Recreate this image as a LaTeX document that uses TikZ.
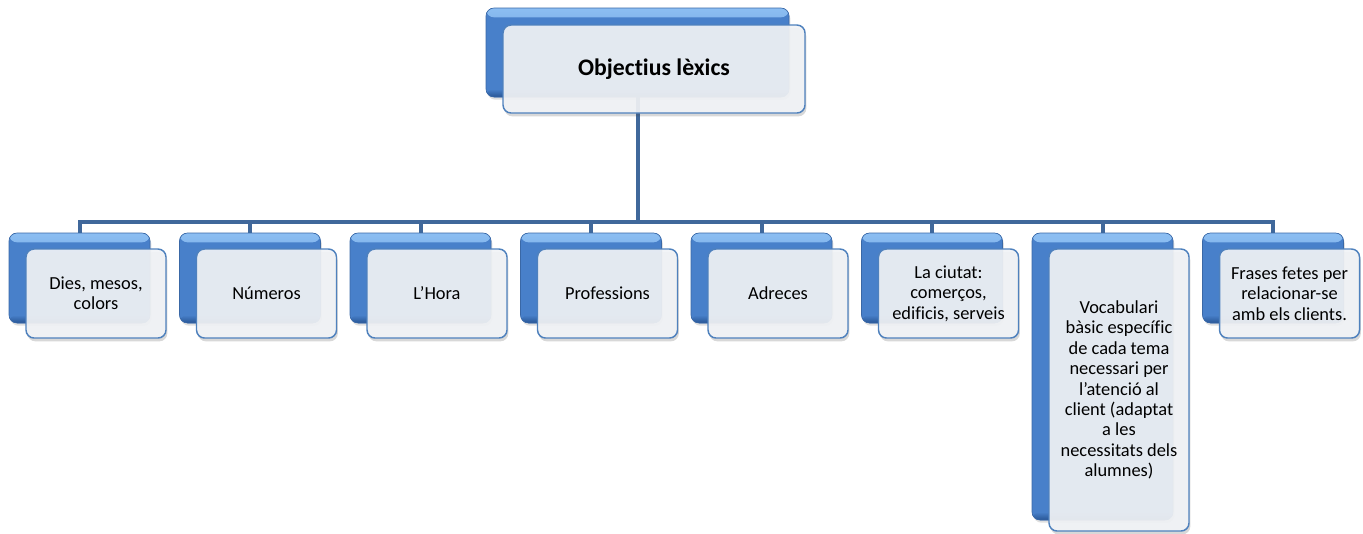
\documentclass[tikz,border=0pt]{standalone}
\usepackage{fontspec}
\setmainfont{Carlito}[Ligatures=NoCommon]
\usetikzlibrary{shadows}
\definecolor{boxblue}{RGB}{72,128,202}
\definecolor{blueTop}{RGB}{140,190,242}
\definecolor{blueBot}{RGB}{40,85,148}
\definecolor{blueEdge}{RGB}{58,104,166}
\definecolor{frontfill}{RGB}{241,243,246}
\definecolor{frontedge}{RGB}{79,129,189}
\definecolor{connblue}{RGB}{64,104,155}
\pgfdeclarelayer{bg}
\pgfsetlayers{bg,main}
\tikzset{
  backbox/.style={rounded corners=6pt, fill=boxblue,
    draw=blueEdge, line width=0.5pt, inner sep=0pt, outer sep=0pt,
    drop shadow={opacity=0.18, shadow xshift=1pt, shadow yshift=-2pt, fill=black!70},
    path picture={
      \fill[top color=blueTop, bottom color=boxblue] (path picture bounding box.north west) rectangle ([yshift=-7pt]path picture bounding box.north east);
      \fill[top color=boxblue, bottom color=blueBot] ([yshift=6pt]path picture bounding box.south west) rectangle (path picture bounding box.south east);
    }},
  frontbox/.style={rounded corners=6pt, fill=frontfill, fill opacity=0.92, text opacity=1,
    draw=frontedge, line width=1.1pt, align=center, inner sep=0pt, outer sep=0pt,
    drop shadow={opacity=0.22, shadow xshift=1pt, shadow yshift=-2.5pt, fill=black!70},
    font=\fontsize{13.8}{15.3}\selectfont},
  conn/.style={draw=connblue, line width=3pt},
}
\begin{document}
\begin{tikzpicture}[x=0.75pt,y=-0.75pt]
\useasboundingbox (0,0) rectangle (1363,533);
\coordinate (bar) at (0,222);
% top
\node[backbox, minimum width=303*0.75pt, minimum height=89*0.75pt] (tb) at (637.5,52.5) {};
\node[frontbox, minimum width=302*0.75pt, minimum height=88*0.75pt, font=\fontsize{17.8}{20}\selectfont\bfseries] (tf) at (654,69) {Objectius lèxics};
% children back boxes
\node[backbox, minimum width=141*0.75pt, minimum height=90*0.75pt] (b1) at (79.5,278) {};
\node[backbox, minimum width=141*0.75pt, minimum height=90*0.75pt] (b2) at (250,278) {};
\node[backbox, minimum width=141*0.75pt, minimum height=90*0.75pt] (b3) at (420.5,278) {};
\node[backbox, minimum width=141*0.75pt, minimum height=90*0.75pt] (b4) at (591,278) {};
\node[backbox, minimum width=141*0.75pt, minimum height=90*0.75pt] (b5) at (761.5,278) {};
\node[backbox, minimum width=141*0.75pt, minimum height=90*0.75pt] (b6) at (932,278) {};
\node[backbox, minimum width=141*0.75pt, minimum height=287*0.75pt] (b7) at (1102.5,376.5) {};
\node[backbox, minimum width=141*0.75pt, minimum height=90*0.75pt] (b8) at (1273,278) {};
% children front boxes
\node[frontbox, minimum width=140*0.75pt, minimum height=89*0.75pt] (f1) at (96,293.5) {Dies, mesos,\\colors};
\node[frontbox, minimum width=140*0.75pt, minimum height=89*0.75pt] (f2) at (266.5,293.5) {Números};
\node[frontbox, minimum width=140*0.75pt, minimum height=89*0.75pt] (f3) at (437,293.5) {L’Hora};
\node[frontbox, minimum width=140*0.75pt, minimum height=89*0.75pt] (f4) at (607.5,293.5) {Professions};
\node[frontbox, minimum width=140*0.75pt, minimum height=89*0.75pt] (f5) at (778,293.5) {Adreces};
\node[frontbox, minimum width=140*0.75pt, minimum height=89*0.75pt] (f6) at (948.5,293.5) {La ciutat:\\comerços,\\edificis, serveis};
\node[frontbox, minimum width=140*0.75pt, minimum height=282*0.75pt] (f7) at (1119,390) {Vocabulari\\bàsic específic\\de cada tema\\necessari per\\l’atenció al\\client (adaptat\\a les\\necessitats dels\\alumnes)};
\node[frontbox, minimum width=140*0.75pt, minimum height=89*0.75pt] (f8) at (1289.5,293.5) {Frases fetes per\\relacionar-se\\amb els clients.};
% connectors
\begin{pgfonlayer}{bg}
\foreach \c in {b1,b2,b3,b4,b5,b6,b7,b8}{
  \draw[conn] (tb.center) -- (tb.center |- bar) -| (\c.north);
}
\end{pgfonlayer}
\end{tikzpicture}
\end{document}
